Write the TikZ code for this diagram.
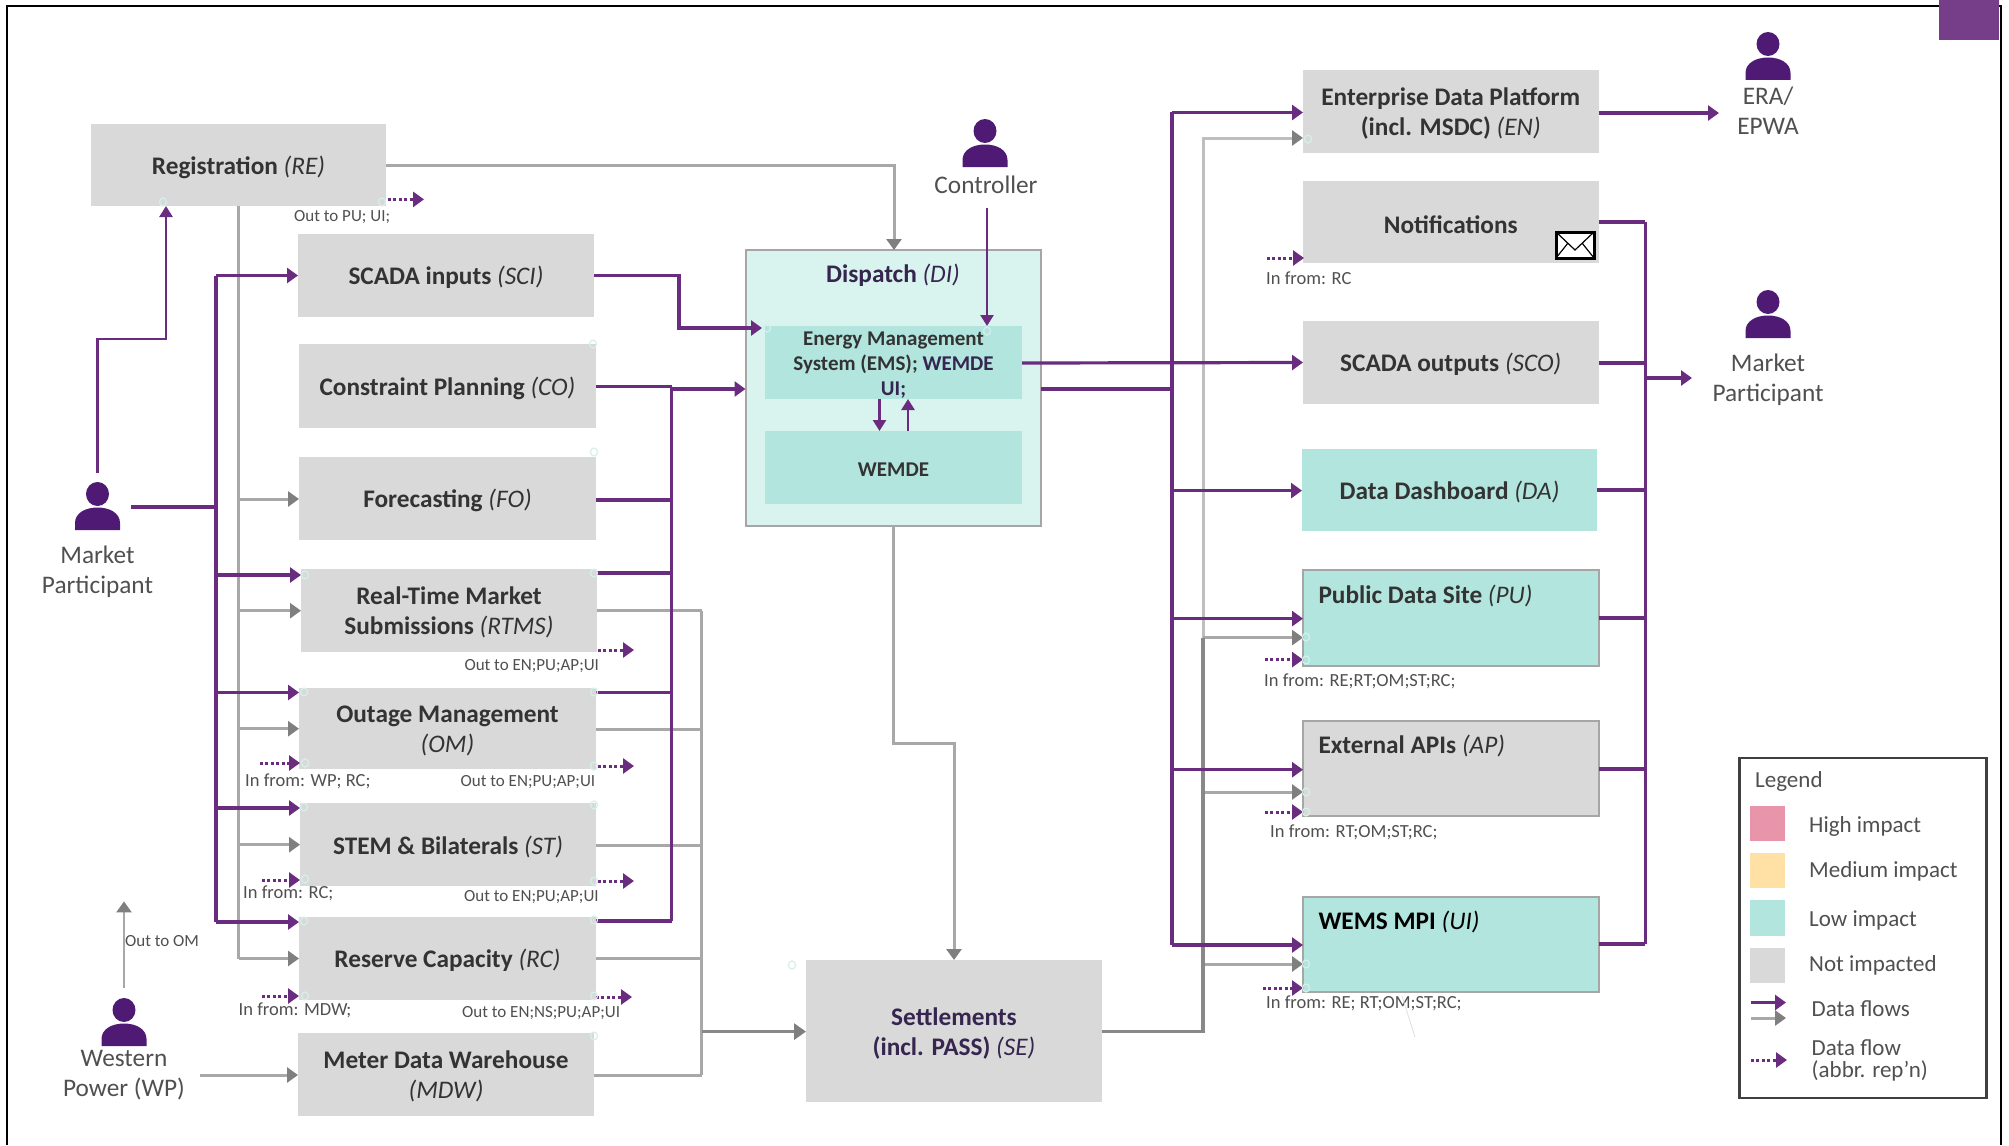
\documentclass[tikz,border=0pt]{standalone}
\usepackage{fontspec}
\setmainfont{Carlito}
\usetikzlibrary{arrows.meta,calc}
\definecolor{pflowc}{HTML}{6A2C7E}
\definecolor{gflowc}{HTML}{A8A8A8}
\definecolor{gtipc}{HTML}{7F7F7F}
\definecolor{gdark}{HTML}{888888}
\definecolor{boxgrey}{HTML}{D9D9D9}
\definecolor{boxlow}{HTML}{B2E5DE}
\definecolor{boxpale}{HTML}{D9F3EE}
\definecolor{edgegrey}{HTML}{A6A6A6}
\definecolor{icon}{HTML}{4F1A73}
\definecolor{txtmain}{HTML}{333333}
\definecolor{txtnavy}{HTML}{35254F}
\definecolor{txtsoft}{HTML}{505050}
\definecolor{dotc}{HTML}{D5F0EC}
\definecolor{swhigh}{HTML}{E894AA}
\definecolor{swmed}{HTML}{FFE0A5}
\tikzset{
  x=1pt,y=-1pt,
  boxbase/.style={inner sep=0pt,outer sep=0pt,align=center,text=txtmain,font=\fontsize{25.3}{30}\selectfont\bfseries},
  gbox/.style={boxbase,fill=boxgrey},
  lbox/.style={boxbase,fill=boxlow},
  gebox/.style={boxbase,fill=boxgrey,draw=edgegrey,line width=2pt},
  lebox/.style={boxbase,fill=boxlow,draw=edgegrey,line width=2pt},
  pflow/.style={draw=pflowc,line width=3.2pt,-{Triangle[length=11pt,width=15pt,color=pflowc]}},
  pline/.style={draw=pflowc,line width=3.2pt},
  pthin/.style={draw=pflowc,line width=2.5pt,-{Triangle[length=11pt,width=13pt,color=pflowc]}},
  gflow/.style={draw=gflowc,line width=3pt,-{Triangle[length=11pt,width=15pt,color=gtipc]}},
  gline/.style={draw=gflowc,line width=3pt},
  dline/.style={draw=gdark,line width=3.4pt},
  dflow/.style={draw=gdark,line width=3.6pt,-{Triangle[length=12pt,width=16pt,color=gtipc]}},
  dotflow/.style={draw=pflowc,line width=3pt,dash pattern=on 3pt off 2.4pt,-{Triangle[length=11pt,width=15pt,color=pflowc]}},
  small/.style={anchor=west,inner sep=0pt,text=txtsoft,font=\fontsize{17}{18}\selectfont},
  smallin/.style={anchor=west,inner sep=0pt,text=txtsoft,font=\fontsize{18.5}{20}\selectfont},
  actor/.style={align=center,inner sep=0pt,text=txtsoft,font=\fontsize{25.3}{30}\selectfont},
  legtext/.style={anchor=west,inner sep=0pt,text=txtsoft,align=left,font=\fontsize{23}{24}\selectfont},
  swatch/.style={inner sep=0pt},
  cdot/.style={draw=dotc,line width=1.2pt,fill=none},
}
\newcommand{\rbox}[7]{\node[#6,minimum width={(#4-#2)*1pt},minimum height={(#5-#3)*1pt}] (#1) at ({(#2+#4)/2},{(#3+#5)/2}) {};
  \node[#6,fill=none,draw=none] (#1t) at ({(#2+#4)/2},{(#3+#5)/2+2.2}) {#7};}
\newcommand{\manicon}[3]{%
  \coordinate (#1) at (#2,#3);
  \fill[icon] (#2,#3+12) ellipse [x radius=11.5,y radius=12];
  \fill[icon] (#2-22.5,#3+48) -- (#2-22.5,#3+41) .. controls (#2-22.5,#3+31) and (#2-12,#3+25.5) .. (#2,#3+25.5)
     .. controls (#2+12,#3+25.5) and (#2+22.5,#3+31) .. (#2+22.5,#3+41) -- (#2+22.5,#3+48) -- cycle;}
\newcommand{\abbr}[1]{{\mdseries\itshape #1}}
\begin{document}
\begin{tikzpicture}
\useasboundingbox (0,0) rectangle (2009,1145);
\fill[white] (0,0) rectangle (2009,1145);
% page frame
\draw[black,line width=2.6pt] (7,1145) -- (7,6) -- (2001,6) -- (2001,1145);
\fill[pflowc!92!white] (1939,0) rectangle (1999,40);

% boxes
\rbox{re}{91}{124}{386}{206}{gbox}{Registration \abbr{(RE)}}
\rbox{sci}{298}{234}{594}{317}{gbox}{SCADA inputs \abbr{(SCI)}}
\rbox{co}{299}{344}{596}{427.5}{gbox}{Constraint Planning \abbr{(CO)}}
\rbox{fo}{299}{457}{596}{540}{gbox}{Forecasting \abbr{(FO)}}
\rbox{rtms}{301}{569}{597}{652}{gbox}{Real-Time Market\\Submissions \abbr{(RTMS)}}
\rbox{om}{299}{688}{596}{769}{gbox}{Outage Management\\\abbr{(OM)}}
\rbox{st}{300}{803}{596}{886}{gbox}{STEM \& Bilaterals \abbr{(ST)}}
\rbox{rc}{299}{917}{596}{1000}{gbox}{Reserve Capacity \abbr{(RC)}}
\rbox{mdw}{298}{1033}{594}{1116}{gbox}{Meter Data Warehouse\\\abbr{(MDW)}}
\rbox{se}{806}{960}{1102}{1102}{gbox,text=txtnavy}{Settlements\\(incl. PASS) \abbr{(SE)}}
\rbox{di}{745.5}{250}{1041}{525.5}{boxbase,fill=boxpale,draw=edgegrey,line width=2pt}{}
\node[anchor=center,inner sep=0pt,text=txtnavy,font=\fontsize{25.3}{30}\selectfont\bfseries] (dititle) at (893,275.5) {Dispatch \abbr{(DI)}};
\rbox{ems}{765}{326}{1022}{399}{lbox,font=\fontsize{21}{25}\selectfont\bfseries}{Energy Management\\System (EMS); {\color{txtnavy}WEMDE}\\{\color{txtnavy}UI;}}
\rbox{wemde}{765}{431}{1022}{504}{lbox,font=\fontsize{21}{25}\selectfont\bfseries}{WEMDE}
\rbox{en}{1303}{70}{1598.5}{153}{gbox}{Enterprise Data Platform\\(incl. MSDC) \abbr{(EN)}}
\rbox{no}{1303}{181}{1598.5}{263}{gbox}{Notifications}
\rbox{sco}{1303}{321}{1598.5}{404}{gbox}{SCADA outputs \abbr{(SCO)}}
\rbox{da}{1302}{448.5}{1597}{531}{lbox}{Data Dashboard \abbr{(DA)}}
\rbox{pu}{1303}{570}{1598.5}{666}{lebox}{}
\rbox{ap}{1303}{721}{1598.5}{816}{gebox}{}
\rbox{ui}{1303}{897}{1598.5}{992}{lebox}{}
\node[boxbase,anchor=west] (putitle) at (1318.5,595.6) {Public Data Site \abbr{(PU)}};
\node[boxbase,anchor=west] (aptitle) at (1318.5,745.6) {External APIs \abbr{(AP)}};
\node[boxbase,anchor=west,text=black] (uititle) at (1318.5,922) {WEMS MPI \abbr{(UI)}};

% envelope
\draw[black,fill=white,line width=3pt] (1556,232) rectangle (1594,258);
\draw[black,line width=1.2pt] (1556,232) -- (1575,250) -- (1594,232) (1556,258) -- (1568,243) (1594,258) -- (1582,243);

% actors
\manicon{mplicon}{97.5}{482}
\node[actor] (mpl) at (97.5,571.5) {Market\\Participant};
\manicon{ctlicon}{985}{119}
\node[actor] (ctl) at (986,185) {Controller};
\manicon{wpicon}{124}{998}
\node[actor] (wp) at (124,1075.5) {Western\\Power (WP)};
\manicon{eraicon}{1768}{32}
\node[actor] (era) at (1768,111) {ERA/\\EPWA};
\manicon{mpricon}{1768}{290}
\node[actor] (mpr) at (1768,379.5) {Market\\Participant};

% bus and free-end coordinates
\coordinate (lpb) at (216,507);
\coordinate (lgb) at (238.5,206);
\coordinate (rpb) at (671.5,386.5);
\coordinate (rgb) at (701.5,610.7);
\coordinate (epb) at (1172,112.5);
\coordinate (egb) at (1203,138);
\coordinate (opb) at (1645.4,222);
\coordinate (mplout) at (131,507);
\coordinate (mplup) at (97.5,473);
\coordinate (ctlout) at (987,208);
\coordinate (wpout) at (200,1075);
\coordinate (wpup) at (124,987.6);
\coordinate (wpend) at (124,901.4);
\coordinate (mprin) at (1692,378);
\coordinate (erain) at (1719,113);

% grey flows
\draw[gflow] (re.east |- 0,165) -| (di.north -| 894,0);
\draw[gline] (lgb) -- (238.5,958.5);
\foreach \n/\y in {fo/499,rtms/610.7,om/728.7,st/844.7,rc/958.5}
  \draw[gflow] (238.5,\y) -- (\n.west |- 0,\y);
\draw[gline] (rgb) -- (701.5,1075);
\foreach \n/\y in {rtms/610.7,om/729,st/845,rc/958,mdw/1075}
  \draw[gline] (\n.east |- 0,\y) -- (701.5,\y);
\draw[dflow] (701.5,1031.6) -- (se.west |- 0,1031.6);
\draw[gflow] (di.south -| 893,0) -- (893,743) -- (954,743) -- (se.north -| 954,0);
\draw[gflow,line width=2.4pt] (wpup) -- (wpend);
\draw[gflow] (wpout) -- (mdw.west |- 0,1075);
\draw[gflow,draw=gflowc!75!white] (egb |- 0,640) -- (egb) -- (en.west |- 0,138);
\foreach \n/\y in {pu/637.6,ap/792,ui/964}
  \draw[gflow] (1203,\y) -- (\n.west |- 0,\y);
\draw[dline] (se.east |- 0,1031.6) -- (1203,1031.6) -- (1203,638);

% purple flows, left
\draw[pthin] (mplup) -- (97.5,339) -- (166,339) -- (re.south -| 166,0);
\draw[pline] (mplout) -- (lpb);
\draw[pline] (216,275.5) -- (216,922);
\foreach \n/\y in {sci/275.5,rtms/575,om/692.5,st/808,rc/922}
  \draw[pflow] (216,\y) -- (\n.west |- 0,\y);
% purple flows, middle
\draw[pline] (rpb) -- (671.5,921);
\foreach \n/\y in {co/386.5,fo/500,rtms/573,om/692.5,rc/921}
  \draw[pline] (\n.east |- 0,\y) -- (671.5,\y);
\draw[pflow] (671.5,389) -- (di.west |- 0,389);
\draw[pflow] (sci.east) -- (679,275.5) -- (679,328) -- (762,328);
\draw[pthin] (ctlout) -- (ems.north -| 987,0);
\draw[pthin] (ems.south -| 879.5,0) -- (wemde.north -| 879.5,0);
\draw[pthin] (wemde.north -| 908,0) -- (ems.south -| 908,0);
\draw[pflow] (ems.east |- 0,363) -- (sco.west);
% purple flows, right
\draw[pline] (di.east |- 0,389) -- (1172,389);
\draw[pline] (epb) -- (1172,945);
\foreach \n/\y in {en/112.5,da/490.6,pu/618.6,ap/769.7,ui/945}
  \draw[pflow] (1172,\y) -- (\n.west |- 0,\y);
\draw[pline] (opb) -- (1645.4,944);
\foreach \n/\y in {no/222,sco/363,da/490,pu/618,ap/769,ui/944}
  \draw[pline] (\n.east |- 0,\y) -- (1645.4,\y);
\draw[pflow] (1645.4,378) -- (mprin);
\draw[pflow] (en.east |- 0,113) -- (erain);

% dotted abbreviations
\foreach \a/\b/\y in {388/424/199.4,598/634/650,598/634/766,260/300/763,598/634/881,262/300/880,596/632/997,262/299/996,1267/1304/258,1265/1303/659.6,1265/1303/812,1263/1303/988}
  \draw[dotflow] (\a,\y) -- (\b,\y);

% small labels
\node[small] (l1) at (294,217) {Out to PU; UI;};
\node[small] (l2) at (464.3,665.6) {Out to EN;PU;AP;UI};
\node[smallin] (l3) at (245,781) {In from: WP; RC;};
\node[small] (l4) at (460.5,781.6) {Out to EN;PU;AP;UI};
\node[smallin] (l5) at (243,893) {In from: RC;};
\node[small] (l6) at (464,897) {Out to EN;PU;AP;UI};
\node[smallin] (l7) at (238.5,1010) {In from: MDW;};
\node[small] (l8) at (462,1012.6) {Out to EN;NS;PU;AP;UI};
\node[small] (l9) at (125,940.6) {Out to OM};
\node[smallin] (l10) at (1266,278) {In from: RC};
\node[smallin] (l11) at (1264,681) {In from: RE;RT;OM;ST;RC;};
\node[smallin] (l12) at (1270,832) {In from: RT;OM;ST;RC;};
\node[smallin] (l13) at (1266,1003) {In from: RE; RT;OM;ST;RC;};

% connection-point marks
\foreach \x/\y in {163/202,382/202,593/344,594/452,305/575,594/573,304/692,594/692,305/763,594/766,304/807,594/805,305/879,594/881,304/921,594/920,305/996,594/996,594/1036,792/965,767/328,987/331,1308/139,1306/637,1306/660,1306/792,1306/812,1306/964,1306/988}
  \draw[cdot] (\x,\y) ellipse [x radius=3.5,y radius=4];
\draw[black!12,line width=.8pt] (1402,996) -- (1415,1037);

% legend
\draw[black!75,fill=white,line width=2.2pt] (1739.5,758) rectangle (1986.5,1098);
\node[legtext] (lt) at (1755,781.5) {Legend};
\node[swatch,fill=swhigh,minimum width=35pt,minimum height=35pt] (s1) at (1767.5,823.5) {};
\node[swatch,fill=swmed,minimum width=35pt,minimum height=35pt] (s2) at (1767.5,870.5) {};
\node[swatch,fill=boxlow,minimum width=35pt,minimum height=36pt] (s3) at (1767.5,918) {};
\node[swatch,fill=boxgrey,minimum width=35pt,minimum height=35pt] (s4) at (1767.5,965.5) {};
\node[legtext] (t1) at (1809,826) {High impact};
\node[legtext] (t2) at (1809,871.5) {Medium impact};
\node[legtext] (t3) at (1809,920) {Low impact};
\node[legtext] (t4) at (1809,965.5) {Not impacted};
\node[legtext] (t5) at (1811.5,1008.5) {Data flows};
\node[legtext,font=\fontsize{23}{22}\selectfont] (t6) at (1811.5,1060) {Data flow\\(abbr. rep’n)};
\coordinate (k1a) at (1751,1002.5); \coordinate (k1b) at (1786,1002.5);
\coordinate (k2a) at (1751,1018); \coordinate (k2b) at (1786,1018);
\coordinate (k3a) at (1751,1060); \coordinate (k3b) at (1787,1060);
\draw[pflow] (k1a) -- (k1b);
\draw[gflow] (k2a) -- (k2b);
\draw[dotflow] (k3a) -- (k3b);
\end{tikzpicture}
\end{document}
